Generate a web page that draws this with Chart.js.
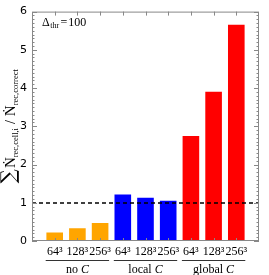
<!DOCTYPE html>
<html>
<head>
<meta charset="utf-8">
<script src="https://cdn.jsdelivr.net/npm/chart.js@4"></script>
<style>
  body { margin: 0; background: #fff; }
  canvas { display: block; }
</style>
</head>
<body>
<canvas id="chart" width="269" height="275"></canvas>
<script>
// data
const resolutions = ['64³', '128³', '256³'];
const groups = ['no', 'local', 'global'];
const ratios = [0.25, 0.36, 0.50, 1.24, 1.16, 1.08, 2.77, 3.93, 5.68];
const groupColors = ['#ffa500', '#0000ff', '#ff0000'];
const yTicks = [0, 1, 2, 3, 4, 5, 6];
const reference = 1;
const threshold = '100';

// one empty slot on each side so the bars sit at 1..9 on a 0..10 axis
const labels = [''].concat(...groups.map(() => resolutions), ['']);
const values = [null, ...ratios, null];
const colors = [null];
groups.forEach((g, i) => resolutions.forEach(() => colors.push(groupColors[i])));
colors.push(null);

const serif = 'Liberation Serif';

// draw a row of text pieces (with subscripts) starting at x
function setFont(ctx, p) {
  ctx.font = (p.italic ? 'italic ' : '') + p.size + 'px ' + (p.family || serif);
}
function drawPieces(ctx, pieces, x, y) {
  pieces.forEach(p => {
    setFont(ctx, p);
    ctx.fillText(p.t, x, y + (p.dy || 0));
    x += ctx.measureText(p.t).width + (p.gap || 0);
  });
}
function piecesWidth(ctx, pieces) {
  let w = 0;
  pieces.forEach(p => {
    setFont(ctx, p);
    w += ctx.measureText(p.t).width + (p.gap || 0);
  });
  return w;
}

const extras = {
  id: 'extras',
  afterDraw(chart) {
    const { ctx, chartArea: a, scales: { x, y } } = chart;
    ctx.save();

    // dashed reference line
    const yy = Math.round(y.getPixelForValue(reference));
    ctx.strokeStyle = '#000';
    ctx.lineWidth = 1.5;
    ctx.setLineDash([4, 3]);
    ctx.beginPath();
    ctx.moveTo(a.left, yy);
    ctx.lineTo(a.right, yy);
    ctx.stroke();
    ctx.setLineDash([]);

    // frame
    ctx.strokeStyle = '#888';
    ctx.lineWidth = 1;
    ctx.strokeRect(a.left + 0.5, a.top + 0.5, a.width - 1, a.height - 1);

    // y ticks, major + minor, both sides, pointing in
    ctx.beginPath();
    for (let v = 0; v <= 60; v++) {
      const p = Math.round(y.getPixelForValue(v / 10)) + 0.5;
      const len = v % 10 === 0 ? 5 : 2.5;
      ctx.moveTo(a.left, p); ctx.lineTo(a.left + len, p);
      ctx.moveTo(a.right, p); ctx.lineTo(a.right - len, p);
    }
    // x ticks at each bar, top and bottom
    for (let i = 1; i <= ratios.length; i++) {
      const p = Math.round(x.getPixelForValue(i)) + 0.5;
      ctx.moveTo(p, a.top); ctx.lineTo(p, a.top + 4);
      ctx.moveTo(p, a.bottom); ctx.lineTo(p, a.bottom - 3);
    }
    ctx.stroke();

    // group brackets + names
    ctx.fillStyle = '#000';
    ctx.strokeStyle = '#333';
    ctx.textBaseline = 'alphabetic';
    groups.forEach((g, i) => {
      const x0 = x.getPixelForValue(1 + i * 3) - 9;
      const x1 = x.getPixelForValue(3 + i * 3) + 9;
      ctx.beginPath();
      ctx.moveTo(x0, 260.5); ctx.lineTo(x1, 260.5);
      ctx.stroke();
      const pieces = [{ t: g + ' ', size: 12 }, { t: 'C', size: 12, italic: true }];
      const w = piecesWidth(ctx, pieces);
      drawPieces(ctx, pieces, (x0 + x1) / 2 - w / 2, 273);
    });

    // Δ_thr = 100
    drawPieces(ctx, [
      { t: 'Δ', size: 12, gap: 0.5 },
      { t: 'thr', size: 8, dy: 2, gap: 1.5 },
      { t: '=', size: 12, gap: 1 },
      { t: threshold, size: 12 }
    ], 42, 26);

    // y axis title, rotated
    const title = [
      { t: '∑', size: 20, family: 'DejaVu Serif', gap: 1 },
      { t: 'Ṅ', size: 15 },
      { t: 'rec,cell,i', size: 8.5, dy: 3, gap: 4 },
      { t: '/', size: 14, gap: 4 },
      { t: 'Ṅ', size: 15 },
      { t: 'rec,correct', size: 8.5, dy: 3 }
    ];
    ctx.translate(15, (a.top + a.bottom) / 2);
    ctx.rotate(-Math.PI / 2);
    const tw = piecesWidth(ctx, title);
    drawPieces(ctx, title, -tw / 2, 0);

    ctx.restore();
  }
};

new Chart(document.getElementById('chart'), {
  type: 'bar',
  data: {
    labels: labels,
    datasets: [{
      data: values,
      backgroundColor: colors,
      borderColor: 'rgba(255,255,255,0.4)',
      borderWidth: 1,
      categoryPercentage: 1,
      barPercentage: 0.82
    }]
  },
  options: {
    responsive: false,
    animation: false,
    layout: { autoPadding: false, padding: { top: 5, right: 10, left: 0, bottom: 0 } },
    plugins: { legend: { display: false }, tooltip: { enabled: false } },
    scales: {
      x: {
        offset: false,
        grid: { display: false, drawTicks: false },
        border: { display: false },
        ticks: {
          autoSkip: false, maxRotation: 0, padding: 4, color: '#000',
          font: { family: serif, size: 12 }
        },
        afterFit(s) { s.height = 34; }
      },
      y: {
        min: 0, max: 6,
        afterBuildTicks(s) { s.ticks = yTicks.map(v => ({ value: v })); },
        grid: { display: false, drawTicks: false },
        border: { display: false },
        ticks: { padding: 5, color: '#000', font: { family: 'DejaVu Sans', size: 11 } },
        afterFit(s) { s.width = 32; }
      }
    }
  },
  plugins: [extras]
});
</script>
</body>
</html>
